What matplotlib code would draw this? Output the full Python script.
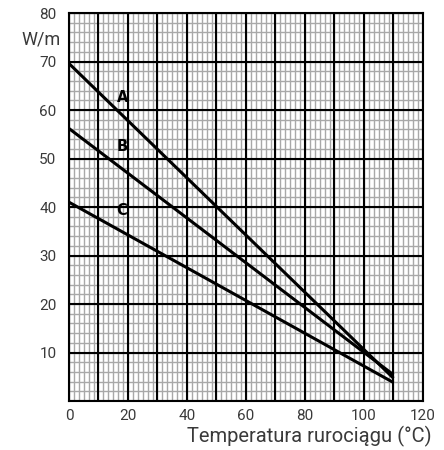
import numpy as np
import matplotlib.pyplot as plt

temperatura = [0, 110]
krzywa_a = [69.6, 4.7]
krzywa_b = [56.2, 5.4]
krzywa_c = [41.0, 3.8]
etykiety = ['A', 'B', 'C']
pozycje_etykiet = [(18.3, 62.6), (18.0, 52.5), (18.0, 39.2)]
x_ticks = [0, 20, 40, 60, 80, 100, 120]
y_ticks = [10, 20, 30, 40, 50, 60, 70, 80]

plt.rcParams['font.family'] = ['Roboto', 'DejaVu Sans']
kolor_tekstu = '#3a3a3a'

fig = plt.figure(figsize=(4.44, 4.5), dpi=100)
ax = fig.add_axes([0.1554, 0.1089, 0.7973, 0.862])

ax.set_xlim(0, 120)
ax.set_ylim(0, 80)

# siatka: drobna najpierw, potem gruba
for x in np.arange(0, 120.01, 10 / 6):
    ax.axvline(x, color='#a8a8a8', linewidth=1.0, zorder=1)
for y in np.arange(0, 80.01, 2):
    ax.axhline(y, color='#a8a8a8', linewidth=1.0, zorder=1)
for x in range(0, 121, 10):
    ax.axvline(x, color='black', linewidth=1.5, zorder=2)
for y in range(0, 81, 10):
    ax.axhline(y, color='black', linewidth=1.5, zorder=2)
for s in ax.spines.values():
    s.set_linewidth(1.5)
    s.set_color('black')

ax.set_xticks(x_ticks)
ax.set_yticks(y_ticks)
ax.tick_params(which='both', length=0, labelsize=11, colors=kolor_tekstu)
ax.tick_params(axis='y', pad=9)
ax.tick_params(axis='x', pad=6)

for y in (krzywa_a, krzywa_b, krzywa_c):
    ax.plot(temperatura, y, color='black', linewidth=2.2, solid_capstyle='butt', zorder=3)

for lab, (px, py) in zip(etykiety, pozycje_etykiet):
    ax.text(px, py, lab, fontsize=10.5, fontweight='bold', ha='center', va='center',
            color='black', family='DejaVu Sans', zorder=4)

ax.text(-2.8, 74.6, 'W/m', fontsize=13, ha='right', va='center', color=kolor_tekstu)
fig.text(0.973, 0.031, 'Temperatura rurociągu (°C)', fontsize=14.5,
         ha='right', va='center', color=kolor_tekstu)

fig.savefig('out.png', dpi=100)
